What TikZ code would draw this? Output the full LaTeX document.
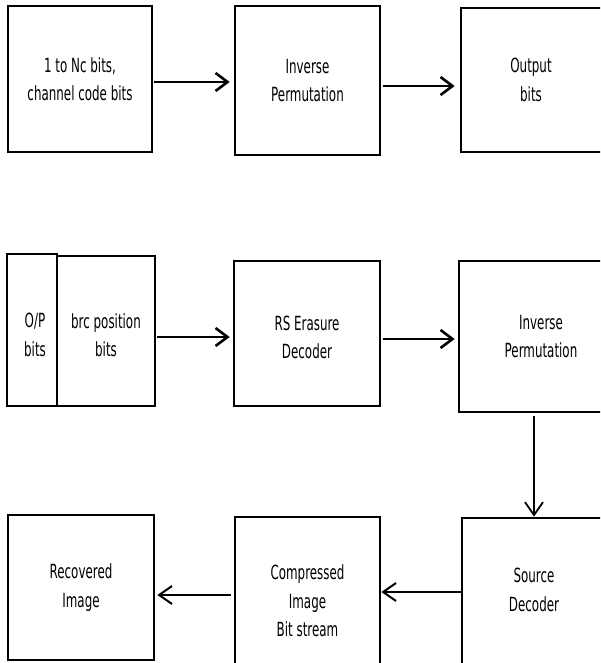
\documentclass[tikz,border=0pt]{standalone}
\usepackage{fontspec}
\newfontfamily\diagfont[FakeStretch=0.61]{DejaVu Sans}
\usetikzlibrary{arrows.meta}
\begin{document}
\begin{tikzpicture}[x=1pt,y=-1pt,
  txt/.style={align=center, font=\diagfont\fontsize{19.5}{28.5}\selectfont},
  box/.style={draw, line width=2.6pt, inner sep=0pt, txt},
  lbl/.style={txt, inner sep=0pt},
  arr/.style={line width=2.6pt, -{Straight Barb[length=12pt,width=18pt]}},
  arrb/.style={line width=2pt, -{Straight Barb[length=13pt,width=18pt]}},
]
\useasboundingbox (0,0) rectangle (600,663);
\clip (0,0) rectangle (600,663);
% row 1
\node[box, minimum width=144pt, minimum height=146pt] (a) at (80,79) {1 to Nc bits,\\channel code bits};
\node[box, minimum width=145pt, minimum height=149pt] (b) at (307.5,80.5) {Inverse\\Permutation};
\node[box, minimum width=146pt, minimum height=144pt, label={[lbl, xshift=-3pt]center:Output\\bits}] (c) at (534,80) {};
% row 2
\node[box, minimum width=50pt, minimum height=152pt, label={[lbl, xshift=3pt, yshift=-5pt]center:O/P\\bits}] (op) at (32,330) {};
\node[box, minimum width=98pt, minimum height=150pt, label={[lbl, yshift=-4pt]center:brc position\\bits}] (brc) at (106,331) {};
\node[box, minimum width=146pt, minimum height=145pt, label={[lbl, yshift=-4pt]center:RS Erasure\\Decoder}] (rs) at (307,333.5) {};
\node[box, minimum width=164pt, minimum height=151pt] (ip2) at (541,336.5) {Inverse\\Permutation};
% row 3
\node[box, minimum width=144pt, minimum height=172pt, label={[lbl, yshift=14pt]center:Source\\Decoder}] (sd) at (534,604) {};
\node[box, minimum width=145pt, minimum height=173pt, label={[lbl, yshift=2.5pt]center:Compressed\\Image\\Bit stream}] (ci) at (307.5,603.5) {};
\node[box, minimum width=146pt, minimum height=145pt] (ri) at (81,587.5) {Recovered\\Image};
% connectors
\draw[arr, shorten <=1pt, shorten >=4pt] ([yshift=-3pt]a.east) -- ([yshift=-3pt]a.east -| b.west);
\draw[arr, shorten <=2pt, shorten >=5pt] ([yshift=-5.5pt]b.east) -- ([yshift=-5.5pt]b.east -| c.west);
\draw[arr, shorten <=1pt, shorten >=3pt] ([yshift=-6pt]brc.east) -- ([yshift=-6pt]brc.east -| rs.west);
\draw[arr, shorten <=2pt, shorten >=3pt] ([yshift=-5.5pt]rs.east) -- ([yshift=-5.5pt]rs.east -| ip2.west);
\draw[arrb, line width=1.8pt, shorten <=3pt] ([xshift=-7pt]ip2.south) -- ([xshift=-7pt]ip2.south |- sd.north);
\draw[arrb] ([yshift=12pt]sd.west) -- ([yshift=12pt]sd.west -| ci.east);
\draw[arrb, shorten <=3pt, shorten >=2pt] ([yshift=8.5pt]ci.west) -- ([yshift=8.5pt]ci.west -| ri.east);
\end{tikzpicture}
\end{document}
